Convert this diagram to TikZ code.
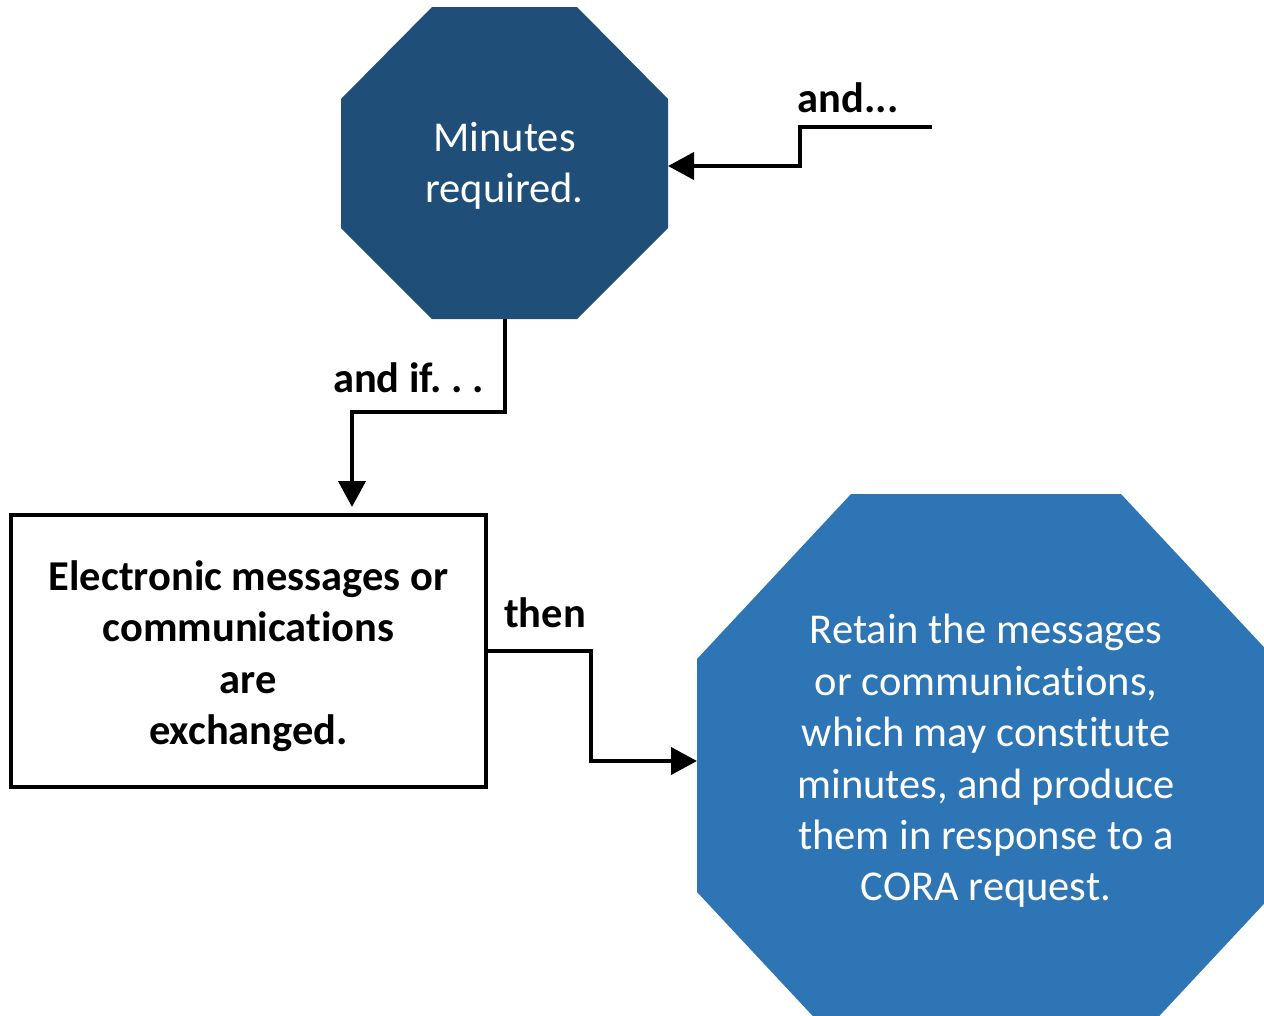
\documentclass[tikz,border=0pt]{standalone}
\usepackage{fontspec}
\setmainfont{Carlito}[Ligatures=NoCommon,RawFeature={-clig;-calt;-dlig}]
\usetikzlibrary{arrows.meta,calc}
\definecolor{darkblue}{HTML}{1F4E79}
\definecolor{midblue}{HTML}{2E75B6}
\tikzset{
  conn/.style={line width=4pt,-{Triangle[length=26pt,width=27pt]}},
  lbl/.style={font=\fontsize{42.5}{50}\selectfont\bfseries,inner sep=0pt},
  octtext/.style={text=white,align=center,font=\fontsize{42.5}{51.4}\selectfont,inner sep=0pt},
  boxtext/.style={align=center,font=\fontsize{42.5}{51.4}\selectfont\bfseries,inner sep=0pt},
  ghost/.style={inner sep=0pt,outer sep=0pt}
}
\begin{document}
\begin{tikzpicture}[x=1pt,y=-1pt]
\useasboundingbox (0,0) rectangle (1264,1015);
\clip (0,0) rectangle (1264,1015);
% top octagon
\fill[darkblue] (432,7) -- (577,7) -- (668,99) -- (668,228) -- (577,319) -- (432,319) -- (341,228) -- (341,99) -- cycle;
\node[ghost,minimum width=327pt,minimum height=312pt] (mr) at (504.5,163) {};
\node[octtext] (mrt) at (504.5,166) {Minutes\\required.};
% big octagon
\fill[midblue] (851,494) -- (1121,494) -- (1275,659) -- (1275,892) -- (1121,1057) -- (851,1057) -- (697,892) -- (697,659) -- cycle;
\node[ghost,minimum width=578pt,minimum height=563pt] (ret) at (986,775.5) {};
\node[octtext] (rett) at (986,761) {Retain the messages\\or communications,\\which may constitute\\minutes, and produce\\them in response to a\\CORA request.};
% rectangle
\node[draw,line width=4.5pt,minimum width=475pt,minimum height=272pt,ghost] (rect) at (248.5,651) {};
\node[boxtext] (rectt) at (248.5,656) {Electronic messages or\\communications\\are\\exchanged.};
% connectors
\coordinate (s1) at (932,127);
\coordinate (k1) at (800,127);
\draw[conn] (s1) -- (k1) |- ($(mr.east)+(0,3)$);
\coordinate (k2) at (352,412);
\draw[conn,shorten >=8pt] (mr.south) |- (k2) -- (k2 |- rect.north);
\coordinate (k3) at (591,651);
\draw[conn] (rect.east) -- (k3) |- ($(ret.west)+(0,-14.5)$);
% labels
\node[lbl] (l1) at (848,98) {and...};
\node[lbl] (l2) at (408.5,378) {and if.\hspace{9.5pt}.\hspace{9.5pt}.};
\node[lbl] (l3) at (545,613) {then};
\end{tikzpicture}
\end{document}
